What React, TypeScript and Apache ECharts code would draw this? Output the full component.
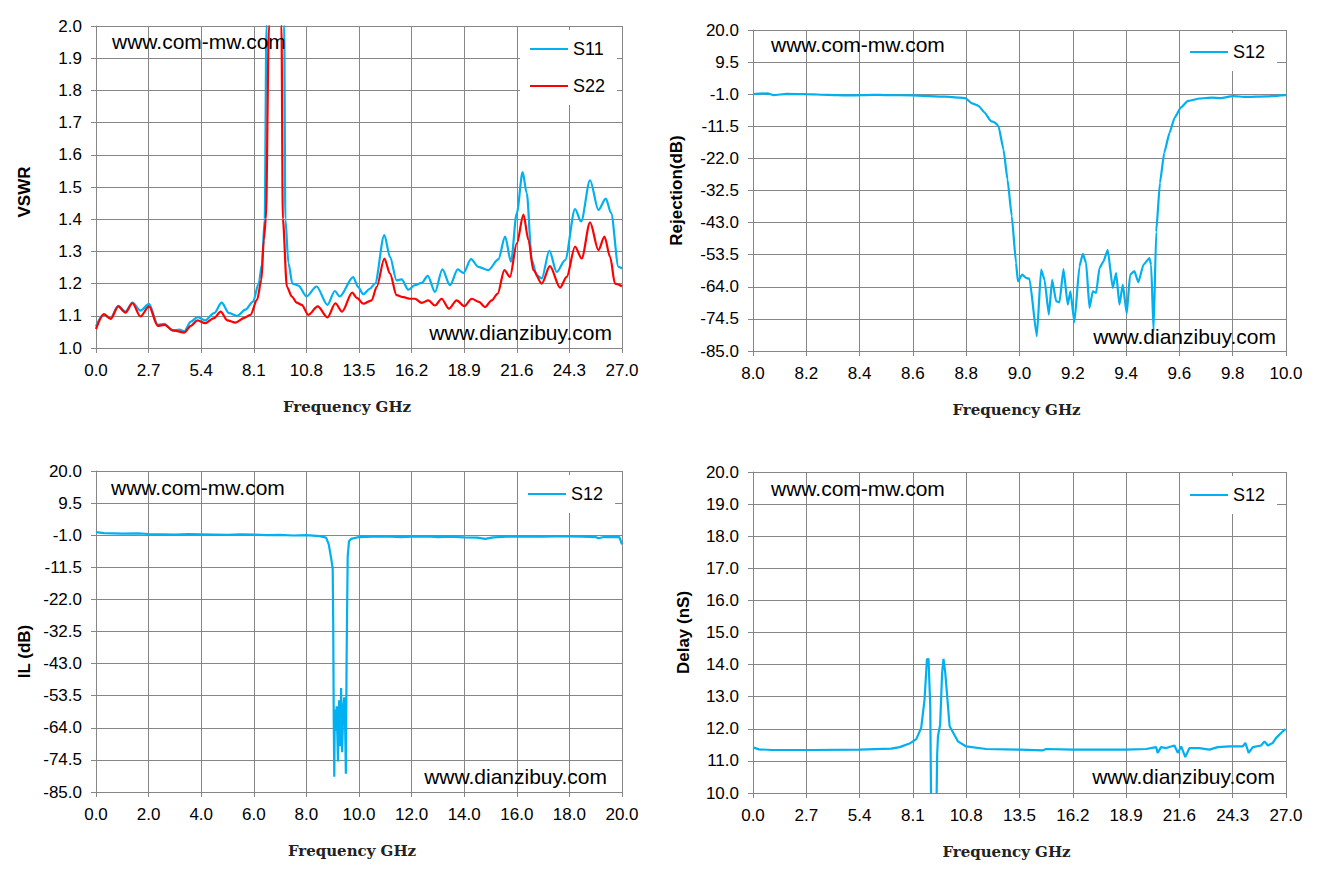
import { useEffect, useRef } from 'react';
import * as echarts from 'echarts';

// VSWR, 0-27 GHz: [GHz, VSWR]
const s11Vswr: [number, number][] = [
  [0, 1.067], [0.37, 1.103], [0.75, 1.093], [1.14, 1.131], [1.51, 1.113], [1.87, 1.141], [2.28, 1.116], [2.72, 1.137],
  [3.17, 1.072], [3.51, 1.075], [3.94, 1.054], [4.28, 1.057], [4.53, 1.052], [4.87, 1.082], [5.21, 1.096], [5.6, 1.086],
  [6.06, 1.108], [6.45, 1.141], [6.83, 1.108], [7.25, 1.1], [7.67, 1.119], [8.06, 1.144], [8.35, 1.2], [8.52, 1.26],
  [8.66, 1.4], [8.75, 2.0], [8.9, 3.2], [9.1, 4.0], [9.4, 3.6], [9.6, 2.3], [9.66, 2.0], [9.72, 1.4], [9.88, 1.263],
  [10.08, 1.2], [10.39, 1.194], [10.81, 1.16], [11.32, 1.191], [11.88, 1.134], [12.26, 1.177], [12.51, 1.16], [13.2, 1.22],
  [13.45, 1.19], [13.72, 1.167], [14.06, 1.184], [14.32, 1.2], [14.8, 1.351], [15.09, 1.283], [15.43, 1.21], [15.69, 1.213],
  [16.03, 1.181], [16.37, 1.195], [16.72, 1.202], [17.03, 1.224], [17.4, 1.174], [17.78, 1.244], [18.17, 1.195], [18.57, 1.244],
  [18.86, 1.233], [19.25, 1.276], [19.63, 1.252], [20.14, 1.242], [20.65, 1.275], [21.0, 1.346], [21.3, 1.268], [21.6, 1.419],
  [21.9, 1.546], [22.11, 1.481], [22.37, 1.273], [22.62, 1.226], [22.88, 1.216], [23.27, 1.302], [23.65, 1.236], [24.08, 1.273],
  [24.59, 1.431], [24.9, 1.393], [25.36, 1.521], [25.79, 1.429], [26.17, 1.464], [26.44, 1.419], [26.82, 1.252], [27.0, 1.247],
];

const s22Vswr: [number, number][] = [
  [0, 1.059], [0.41, 1.105], [0.75, 1.09], [1.14, 1.129], [1.51, 1.11], [1.87, 1.139], [2.28, 1.098], [2.72, 1.129],
  [3.17, 1.069], [3.51, 1.072], [3.94, 1.055], [4.53, 1.048], [4.87, 1.069], [5.21, 1.086], [5.6, 1.077], [6.06, 1.093],
  [6.4, 1.113], [6.74, 1.086], [7.16, 1.079], [7.59, 1.093], [7.93, 1.103], [8.27, 1.15], [8.49, 1.211], [8.61, 1.335],
  [8.72, 1.4], [8.88, 2.0], [9.0, 3.2], [9.2, 3.8], [9.4, 3.0], [9.52, 2.0], [9.59, 1.4], [9.8, 1.19], [10.05, 1.16],
  [10.3, 1.141], [10.56, 1.134], [10.9, 1.103], [11.38, 1.129], [11.88, 1.095], [12.29, 1.139], [12.63, 1.113], [13.15, 1.172],
  [13.4, 1.155], [13.72, 1.1375], [14.15, 1.148], [14.41, 1.19], [14.8, 1.278], [15.09, 1.231], [15.43, 1.164], [15.78, 1.158],
  [16.12, 1.153], [16.37, 1.153], [16.72, 1.14], [17.06, 1.148], [17.4, 1.132], [17.74, 1.153], [18.12, 1.122], [18.51, 1.148],
  [18.91, 1.13], [19.29, 1.153], [19.66, 1.143], [19.97, 1.127], [20.31, 1.148], [20.62, 1.169], [20.96, 1.242], [21.25, 1.221],
  [21.6, 1.325], [21.94, 1.414], [22.2, 1.335], [22.45, 1.242], [22.88, 1.2], [23.3, 1.254], [23.82, 1.1875], [24.16, 1.221],
  [24.59, 1.315], [24.93, 1.278], [25.36, 1.39], [25.79, 1.304], [26.1, 1.346], [26.39, 1.283], [26.64, 1.2], [27.0, 1.192],
];

// Rejection, 8-10 GHz: [GHz, dB]
const s12Rejection: [number, number][] = [
  [8.0, -1.0], [8.055, -0.7], [8.078, -1.3], [8.125, -0.9], [8.2, -1.0], [8.28, -1.2], [8.36, -1.4], [8.45, -1.2],
  [8.5, -1.3], [8.6, -1.4], [8.72, -1.8], [8.775, -2.1], [8.796, -2.3], [8.822, -4.0], [8.846, -4.8], [8.869, -7.0],
  [8.893, -9.8], [8.908, -10.3], [8.921, -11.4], [8.94, -19.1], [8.955, -28.9], [8.971, -40.9], [8.987, -56.2], [8.994, -62.2],
  [9.01, -60.0], [9.025, -61.1], [9.0375, -61.4], [9.065, -80.2], [9.081, -58.4], [9.094, -61.7], [9.11, -73.1], [9.1225, -61.7],
  [9.1375, -68.7], [9.15, -69.1], [9.165, -58.2], [9.181, -69.8], [9.191, -65.5], [9.206, -75.6], [9.225, -57.3], [9.2375, -53.2],
  [9.25, -56.2], [9.2625, -70.9], [9.275, -65.5], [9.2875, -66.0], [9.3, -57.9], [9.315, -55.7], [9.331, -51.9], [9.35, -64.4],
  [9.3625, -59.5], [9.375, -69.8], [9.3875, -63.3], [9.4025, -72.8], [9.415, -60.0], [9.431, -58.9], [9.446, -62.5], [9.465, -56.8],
  [9.4875, -54.6], [9.494, -56.8], [9.503, -78.5], [9.513, -46.0], [9.527, -30.0], [9.543, -20.2], [9.563, -13.6], [9.582, -8.7],
  [9.605, -5.4], [9.632, -3.2], [9.676, -2.4], [9.723, -2.1], [9.754, -2.3], [9.801, -1.6], [9.848, -1.9], [9.926, -1.7], [10.0, -1.3],
];

// Insertion loss, 0-20 GHz: [GHz, dB]
const s12Il: [number, number][] = [
  [0, 0.0], [0.3, -0.3], [1, -0.5], [1.6, -0.4], [2, -0.6], [3, -0.8], [3.5, -0.6], [4, -0.7], [5, -0.9], [5.5, -0.7],
  [6, -0.8], [6.5, -1.0], [7, -0.9], [7.5, -1.1], [8, -1.0], [8.5, -1.3], [8.75, -1.8], [8.85, -4.0], [8.95, -9.0],
  [9.0, -12.0], [9.02, -30.0], [9.04, -62.0], [9.06, -80.0], [9.08, -58.0], [9.12, -65.0], [9.15, -57.0], [9.2, -75.0],
  [9.24, -55.0], [9.28, -70.0], [9.32, -51.0], [9.36, -72.0], [9.4, -58.0], [9.44, -54.0], [9.47, -62.0], [9.5, -79.0],
  [9.53, -40.0], [9.57, -8.0], [9.62, -3.0], [9.7, -2.2], [10, -1.6], [10.5, -1.5], [11, -1.4], [11.6, -1.6], [12, -1.5],
  [12.6, -1.4], [13, -1.6], [13.5, -1.5], [14, -1.7], [14.5, -1.8], [14.8, -2.2], [15.1, -1.7], [15.6, -1.5], [16, -1.5],
  [16.5, -1.4], [17, -1.5], [17.5, -1.4], [18, -1.4], [18.5, -1.5], [19, -1.6], [19.1, -2.0], [19.3, -1.6], [19.9, -1.6], [20, -4.0],
];

// Group delay, 0-27 GHz: [GHz, nS]
const s12Delay: [number, number][] = [
  [0, 11.42], [0.3, 11.36], [1, 11.34], [3, 11.34], [5.4, 11.35], [7, 11.38], [7.43, 11.43], [7.93, 11.54], [8.27, 11.68],
  [8.52, 12.03], [8.69, 12.91], [8.81, 14.16], [8.89, 14.18], [8.98, 12.7], [9.03, 9.0], [9.1, 8.0], [9.25, 8.0], [9.28, 9.0],
  [9.33, 11.2], [9.37, 11.77], [9.48, 12.13], [9.58, 13.74], [9.65, 14.18], [9.74, 13.74], [9.96, 12.08], [10.38, 11.61],
  [10.8, 11.45], [11.81, 11.37], [13.5, 11.35], [14.68, 11.33], [14.85, 11.37], [16.2, 11.35], [18.9, 11.35], [19.91, 11.37],
  [20.42, 11.43], [20.5, 11.25], [20.67, 11.43], [20.93, 11.4], [21.35, 11.48], [21.52, 11.25], [21.69, 11.45], [21.9, 11.12],
  [22.11, 11.4], [22.61, 11.4], [23.12, 11.35], [23.54, 11.43], [24.13, 11.45], [24.81, 11.45], [24.94, 11.56], [25.11, 11.25],
  [25.32, 11.43], [25.74, 11.48], [25.91, 11.61], [26.08, 11.48], [26.33, 11.56], [26.49, 11.71], [26.75, 11.87], [26.97, 11.99],
];

const DB_OFFSET = 85; // dB axes run -85..20; plotted as 0..105 so ticks start at min
const BLUE = '#00b0f0';
const RED = '#ff0000';
const GRID_COLOR = '#868686';
const SANS = '"Liberation Sans", Arial, sans-serif';
const SERIF = '"DejaVu Serif", "Liberation Serif", serif';

const grids = [
  { left: 96, top: 26, width: 526, height: 322 },
  { left: 753, top: 30, width: 533, height: 321 },
  { left: 96, top: 471, width: 526, height: 321 },
  { left: 753, top: 472, width: 533, height: 321 },
];

function xAxis(gridIndex: number, min: number, max: number, interval: number, shiftLeft: number) {
  return {
    type: 'value',
    gridIndex,
    min,
    max,
    interval,
    name: 'Frequency GHz',
    nameLocation: 'middle',
    nameGap: 51,
    nameTextStyle: { fontFamily: SERIF, fontWeight: 'bold', fontSize: 15, color: '#222', padding: [0, shiftLeft * 2, 0, 0] },
    axisLine: { show: true, onZero: false, lineStyle: { color: GRID_COLOR } },
    axisTick: { show: true, length: 5, lineStyle: { color: GRID_COLOR } },
    axisLabel: { margin: 14, fontFamily: SANS, fontSize: 17, color: '#000', formatter: (v: number) => v.toFixed(1) },
    splitLine: { show: true, lineStyle: { color: GRID_COLOR, width: 1 } },
  };
}

function yAxis(gridIndex: number, min: number, max: number, interval: number, name: string, nameGap: number, shiftDown: number, offset = 0) {
  return {
    type: 'value',
    gridIndex,
    min,
    max,
    interval,
    name,
    nameLocation: 'middle',
    nameGap,
    nameTextStyle: { fontFamily: SANS, fontWeight: 'bold', fontSize: 17, color: '#000', padding: [0, shiftDown * 2, 0, 0] },
    axisLine: { show: true, lineStyle: { color: GRID_COLOR } },
    axisTick: { show: true, length: 5, lineStyle: { color: GRID_COLOR } },
    axisLabel: { margin: 14, fontFamily: SANS, fontSize: 17, color: '#000', formatter: (v: number) => (v - offset).toFixed(1) },
    splitLine: { show: true, lineStyle: { color: GRID_COLOR, width: 1 } },
  };
}

function line(name: string, idx: number, data: [number, number][], color: string, smooth: number | boolean, offset = 0) {
  return {
    type: 'line',
    name,
    xAxisIndex: idx,
    yAxisIndex: idx,
    data: data.map(([f, v]) => [f, v + offset]),
    symbol: 'none',
    showSymbol: false,
    smooth,
    smoothMonotone: 'x',
    clip: true,
    color,
    lineStyle: { color, width: 2.2 },
  };
}

function legend(left: number, top: number, items: string[]) {
  return {
    left,
    top,
    orient: 'vertical',
    data: items,
    icon: 'rect',
    backgroundColor: '#ffffff',
    padding: [10, 12, 10, 10],
    itemWidth: 38,
    itemHeight: 2,
    itemGap: 19,
    selectedMode: false,
    textStyle: { fontFamily: SANS, fontSize: 18, color: '#000' },
  };
}

function watermark(left: number, top: number, text: string, right?: number) {
  const pos = right !== undefined ? { right, top } : { left, top };
  return { type: 'text', ...pos, z: 100, style: { text, font: `21px ${SANS}`, fill: '#000' } };
}

export default function App() {
  const chartRef = useRef<HTMLDivElement | null>(null);

  useEffect(() => {
    if (!chartRef.current) {
      return;
    }
    document.body.style.margin = '0';
    const chart = echarts.init(chartRef.current, null, { renderer: 'svg' });
    chart.setOption({
      animation: false,
      backgroundColor: '#ffffff',
      grid: grids,
      xAxis: [xAxis(0, 0, 27, 2.7, 12), xAxis(1, 8, 10, 0.2, 3), xAxis(2, 0, 20, 2, 7), xAxis(3, 0, 27, 2.7, 13)],
      yAxis: [
        yAxis(0, 1, 2, 0.1, 'VSWR', 63, 5),
        yAxis(1, 0, 105, 10.5, 'Rejection(dB)', 68, 0, DB_OFFSET),
        yAxis(2, 0, 105, 10.5, 'IL (dB)', 63, 20, DB_OFFSET),
        yAxis(3, 10, 20, 1, 'Delay (nS)', 61, 0),
      ],
      legend: [
        legend(520, 30, ['S11', 'S22']),
        legend(1180, 33, ['S12']),
        legend(518, 475, ['S12']),
        legend(1180, 476, ['S12']),
      ],
      graphic: [
        watermark(112, 31, 'www.com-mw.com'),
        watermark(771, 34, 'www.com-mw.com'),
        watermark(111, 477, 'www.com-mw.com'),
        watermark(771, 478, 'www.com-mw.com'),
        watermark(0, 322, 'www.dianzibuy.com', 1317 - 612),
        watermark(0, 326, 'www.dianzibuy.com', 1317 - 1276),
        watermark(0, 766, 'www.dianzibuy.com', 1317 - 607),
        watermark(0, 766, 'www.dianzibuy.com', 1317 - 1275),
      ],
      series: [
        line('S11', 0, s11Vswr, BLUE, 0.3),
        line('S22', 0, s22Vswr, RED, 0.3),
        line('S12', 1, s12Rejection, BLUE, 0.15, DB_OFFSET),
        line('S12', 2, s12Il, BLUE, false, DB_OFFSET),
        line('S12', 3, s12Delay, BLUE, false),
      ],
    });
    return () => chart.dispose();
  }, []);

  return <div ref={chartRef} style={{ position: 'absolute', left: 0, top: 0, width: 1317, height: 881 }} />;
}
